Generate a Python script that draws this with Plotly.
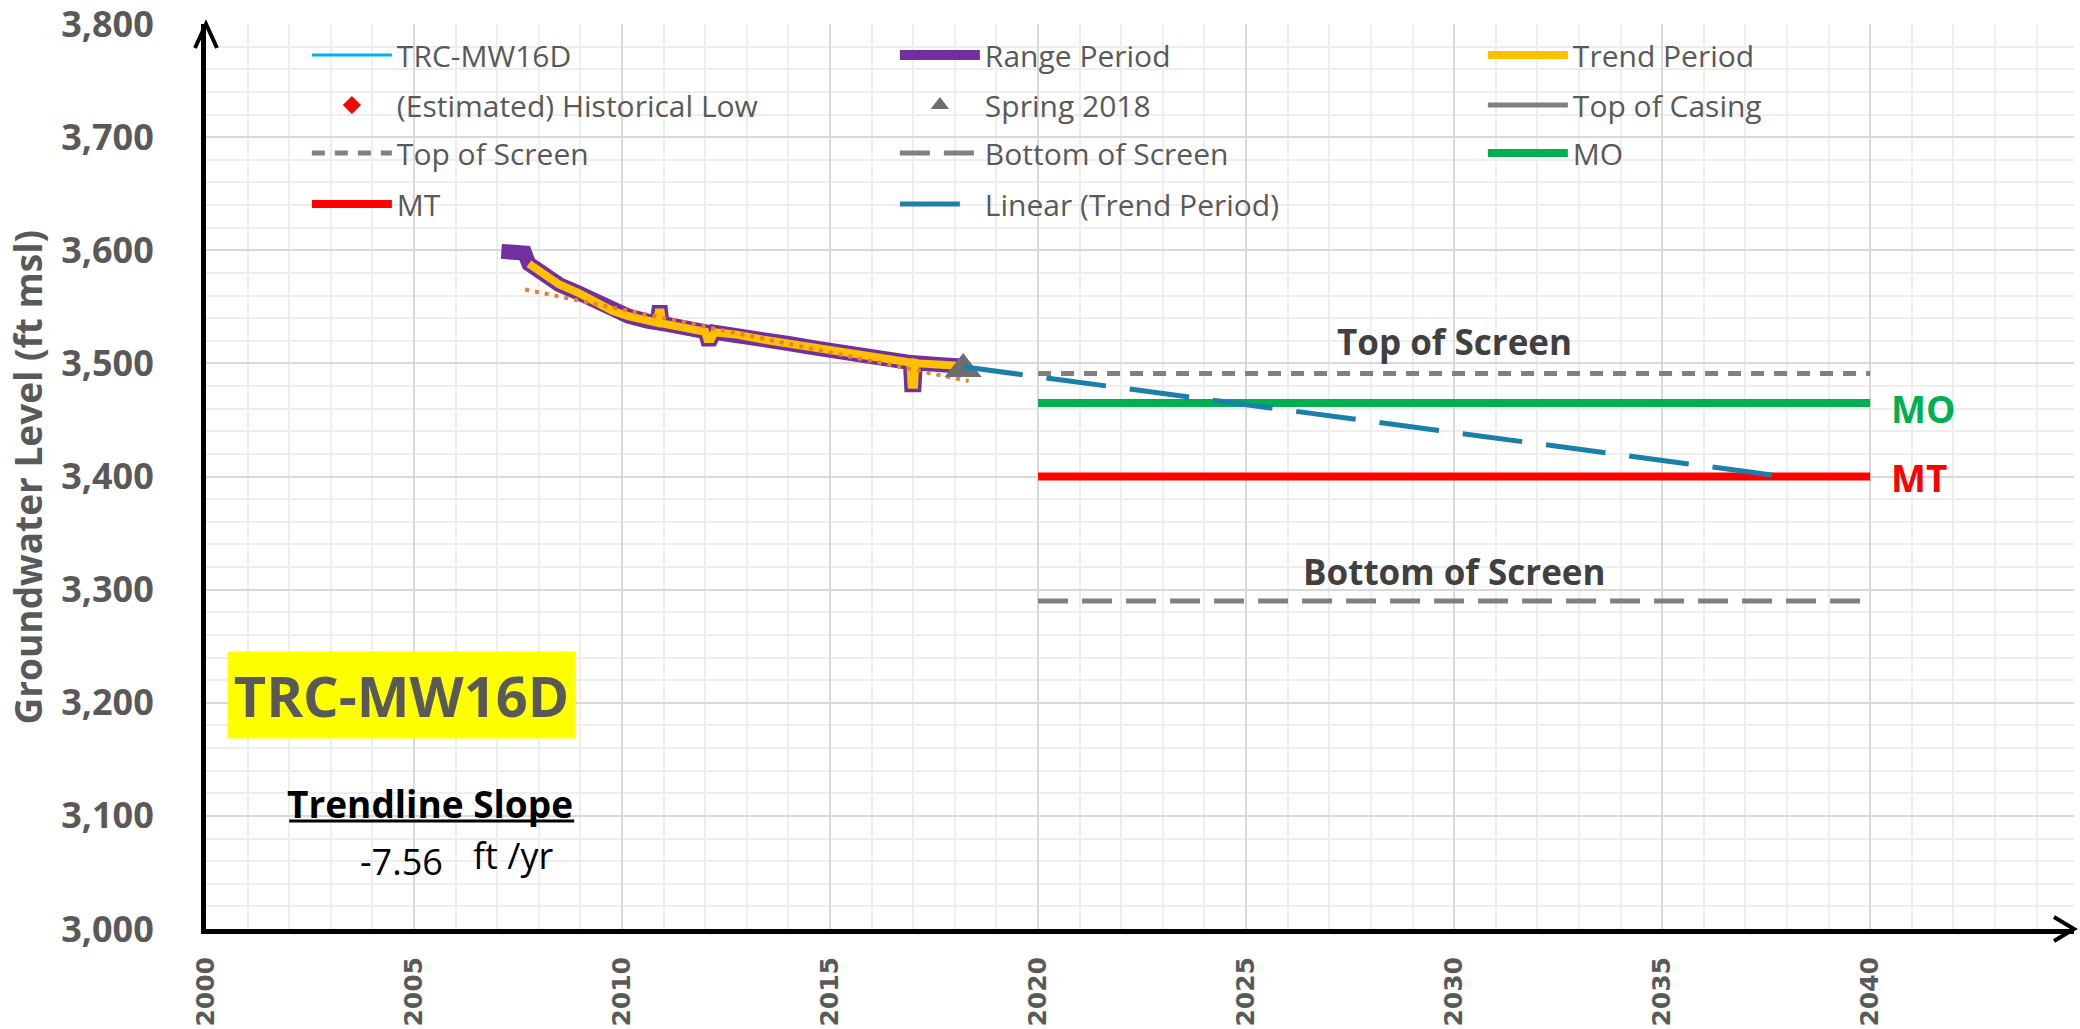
import plotly.graph_objects as go

# ---------------- data ----------------
range_years = [2007.10, 2007.22, 2007.40, 2007.55, 2007.66, 2007.76, 2008.12, 2008.49, 2008.95,
               2009.41, 2009.78, 2010.15, 2010.61, 2010.85, 2010.88, 2010.93, 2010.96, 2011.43,
               2011.89, 2012.00, 2012.05, 2012.14, 2012.22, 2012.72, 2013.36, 2014.00, 2014.74,
               2015.29, 2015.94, 2016.58, 2016.93, 2016.96, 2017.02, 2017.05, 2017.13, 2017.68,
               2018.14]
range_levels = [3599.0, 3598.5, 3595.5, 3596.5, 3597.5, 3588.0, 3578.5, 3569.7, 3562.4,
                3553.5, 3546.2, 3541.8, 3537.4, 3535.9, 3545.0, 3545.0, 3535.3, 3531.5,
                3528.5, 3528.0, 3521.5, 3521.5, 3527.5, 3525.6, 3521.2, 3517.6, 3513.0,
                3509.4, 3506.5, 3503.0, 3500.8, 3481.0, 3481.0, 3500.5, 3500.0, 3498.8,
                3497.6]

trend_years = range_years[5:]
trend_levels = range_levels[5:]

trendline_years = [2007.67, 2018.33]
trendline_levels = [3565.3, 3484.4]

projection_years = [2018.2, 2037.9]
projection_levels = [3497.0, 3400.0]

spring2018_year = [2018.2]
spring2018_level = [3495.0]

threshold_years = [2020, 2040]
top_of_screen = [3491, 3491]
bottom_of_screen = [3290, 3290]
mo_level = [3465, 3465]
mt_level = [3400, 3400]

x_ticks = [2000, 2005, 2010, 2015, 2020, 2025, 2030, 2035, 2040]
y_ticks = [3000, 3100, 3200, 3300, 3400, 3500, 3600, 3700, 3800]

well_name = "TRC-MW16D"
slope_value = "-7.56"

# ---------------- figure ----------------
fig = go.Figure()

fig.add_trace(go.Scatter(x=threshold_years, y=mt_level, mode="lines", name="MT",
                         line=dict(color="#FF0000", width=8), legend="legend4", legendrank=1))
fig.add_trace(go.Scatter(x=threshold_years, y=mo_level, mode="lines", name="MO",
                         line=dict(color="#00B050", width=8), legend="legend3", legendrank=3))
fig.add_trace(go.Scatter(x=threshold_years, y=top_of_screen, mode="lines", name="Top of Screen",
                         line=dict(color="#808080", width=5, dash="13px,10px"),
                         legend="legend3", legendrank=1))
fig.add_trace(go.Scatter(x=threshold_years, y=bottom_of_screen, mode="lines", name="Bottom of Screen",
                         line=dict(color="#808080", width=5, dash="30px,14px"),
                         legend="legend3", legendrank=2))
fig.add_trace(go.Scatter(x=[None], y=[None], mode="lines", name="Top of Casing",
                         line=dict(color="#808080", width=5), legend="legend2", legendrank=3))
fig.add_trace(go.Scatter(x=[None], y=[None], mode="markers", name="(Estimated) Historical Low",
                         marker=dict(color="#FF0000", symbol="diamond", size=14),
                         legend="legend2", legendrank=1))

fig.add_trace(go.Scatter(x=range_years, y=range_levels, mode="lines", name=well_name,
                         line=dict(color="#00B0F0", width=3), legend="legend", legendrank=1))
fig.add_trace(go.Scatter(x=range_years, y=range_levels, mode="lines", name="Range Period",
                         line=dict(color="#7030A0", width=15), legend="legend", legendrank=2))
fig.add_trace(go.Scatter(x=trend_years, y=trend_levels, mode="lines", name="Trend Period",
                         line=dict(color="#FFC000", width=8), legend="legend", legendrank=3))
fig.add_trace(go.Scatter(x=trendline_years, y=trendline_levels, mode="lines",
                         name="Linear (Trend Period) fit", showlegend=False,
                         line=dict(color="#ED7D31", width=4, dash="4px,6px")))
fig.add_trace(go.Scatter(x=spring2018_year, y=spring2018_level, mode="markers", name="Spring 2018",
                         marker=dict(color="#6E6E6E", symbol="triangle-up", size=32),
                         legend="legend2", legendrank=2))
fig.add_trace(go.Scatter(x=projection_years, y=projection_levels, mode="lines",
                         name="Linear (Trend Period)",
                         line=dict(color="#1A80AA", width=5, dash="60px,24px"),
                         legend="legend4", legendrank=2))

# ---------------- layout ----------------
grey = "#595959"
leg_font = dict(family="Open Sans", size=30, color=grey)
row_y = [0.9657, 0.9105, 0.8574, 0.8011]
legends = {}
for i, key in enumerate(["legend", "legend2", "legend3", "legend4"]):
    legends[key] = dict(orientation="h", xref="paper", yref="paper", x=0.054, y=row_y[i],
                        xanchor="left", yanchor="middle", bgcolor="rgba(0,0,0,0)",
                        font=leg_font, itemwidth=80, entrywidth=493, borderwidth=0,
                        traceorder="normal")

fig.update_layout(
    width=2080, height=1029,
    margin=dict(l=206, r=6, t=24, b=100, autoexpand=False),
    paper_bgcolor="white", plot_bgcolor="white",
    showlegend=True,
    **legends,
    xaxis=dict(range=[2000, 2044.9], tickvals=x_ticks, showgrid=True, gridcolor="#D9D9D9",
               gridwidth=2, minor=dict(dtick=1, tick0=2000, showgrid=True, gridcolor="#EEEEEE",
                                       gridwidth=2),
               showline=True, linecolor="black", linewidth=5, zeroline=False,
               tickangle=-90, ticks="", ticklabelstandoff=13, automargin=False,
               ticklabeloverflow="allow",
               tickfont=dict(family="DejaVu Sans", size=25, color=grey, weight="bold")),
    yaxis=dict(range=[3000, 3800], tickvals=y_ticks, tickformat=",", showgrid=True,
               gridcolor="#D9D9D9", gridwidth=2,
               minor=dict(dtick=20, tick0=3000, showgrid=True, gridcolor="#EEEEEE", gridwidth=2),
               showline=True, linecolor="black", linewidth=5, zeroline=False, ticks="",
               ticklabelstandoff=40, automargin=False, ticklabeloverflow="allow",
               tickfont=dict(family="Open Sans", size=36, color=grey, weight="bold")),
)

shapes = [
    dict(type="rect", xref="paper", yref="paper", x0=0.0118, x1=0.962, y0=0.770, y1=0.9934,
         fillcolor="white", line=dict(width=0), layer="between"),
    dict(type="path", xref="paper", yref="paper", xsizemode="pixel", ysizemode="pixel",
         xanchor=0, yanchor=1, path="M -11,-24 L 0,0 L 11,-24",
         line=dict(color="black", width=4)),
    dict(type="path", xref="paper", yref="paper", xsizemode="pixel", ysizemode="pixel",
         xanchor=1, yanchor=0, path="M -20,12 L 0,0 L -20,-12",
         line=dict(color="black", width=4)),
    dict(type="line", xref="x", yref="y", x0=2002.0, x1=2008.85, y0=3095.4, y1=3095.4,
         line=dict(color="black", width=3)),
]
fig.update_layout(shapes=shapes)

annotations = [
    dict(text="Groundwater Level (ft msl)", xref="paper", yref="paper", x=-0.0953, y=0.5,
         textangle=-90, showarrow=False, xanchor="center", yanchor="middle",
         font=dict(family="Open Sans", size=37, color=grey, weight="bold")),
    dict(text=well_name, x=2004.70, y=3206.6, showarrow=False, bgcolor="#FFFF00",
         width=347, height=86, borderpad=0, xanchor="center", yanchor="middle",
         font=dict(family="Open Sans", size=56, color=grey, weight="bold")),
    dict(text="Trendline Slope", x=2005.38, y=3111.3, showarrow=False,
         font=dict(family="Open Sans", size=37, color="black", weight="bold")),
    dict(text=slope_value, x=2004.70, y=3060, showarrow=False,
         font=dict(family="Open Sans", size=36, color="black")),
    dict(text="ft /yr", x=2007.40, y=3065, showarrow=False,
         font=dict(family="Open Sans", size=36, color="black")),
    dict(text="Top of Screen", x=2030.0, y=3519, showarrow=False,
         font=dict(family="Open Sans", size=35, color="#404040", weight="bold")),
    dict(text="Bottom of Screen", x=2030.0, y=3316, showarrow=False,
         font=dict(family="Open Sans", size=35, color="#404040", weight="bold")),
    dict(text="MO", x=2040.45, y=3460, showarrow=False, xanchor="left",
         font=dict(family="Open Sans", size=37, color="#00B050", weight="bold")),
    dict(text="MT", x=2040.45, y=3399, showarrow=False, xanchor="left",
         font=dict(family="Open Sans", size=37, color="#FF0000", weight="bold")),
]
fig.update_layout(annotations=annotations)

fig.write_html("out.html", config={"displayModeBar": False},
               post_script="document.body.style.margin='0px';")
